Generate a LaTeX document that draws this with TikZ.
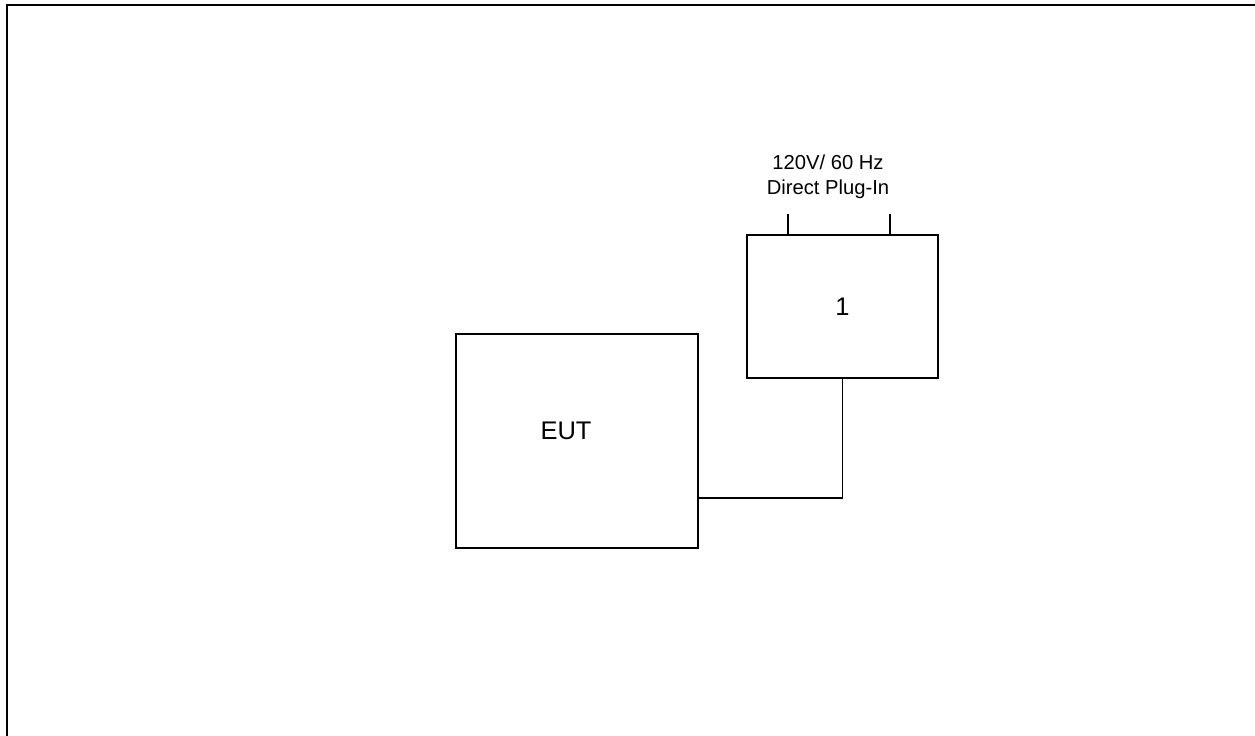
\documentclass[tikz,border=0pt]{standalone}
\usepackage{fontspec}
\setmainfont{Liberation Sans}
\usetikzlibrary{positioning,calc}
\tikzset{
  unit/.style={rectangle, draw, line width=0.75pt, inner sep=0pt},
  wire/.style={line width=0.75pt},
  frame/.style={line width=1.5pt},
  biglbl/.style={font=\fontsize{14.5}{17}\selectfont, inner sep=0pt},
  smalllbl/.style={align=center, font=\fontsize{11.5}{14}\selectfont, inner sep=0pt}
}
\begin{document}
\begin{tikzpicture}[x=0.2mm, y=-0.2mm]
\useasboundingbox (0,0) rectangle (1255,736);
\draw[frame] (7,760) -- (7,5) -- (1280,5);
\node[unit, minimum width=4.84cm, minimum height=4.28cm] (eut) at (577,441) {};
\node[biglbl] (euttxt) at (566,431) {EUT};
\node[unit, minimum width=3.82cm, minimum height=2.86cm, biglbl, draw, line width=0.75pt] (plug) at (842.5,306.5) {1};
\node[smalllbl] (rating) at (828,177) {120V/ 60 Hz\\Direct Plug-In};
\coordinate (pinA) at (788,214);
\coordinate (pinB) at (890,214);
\draw[wire] (pinA) -- (pinA |- plug.north);
\draw[wire] (pinB) -- (pinB |- plug.north);
\coordinate (tap) at (eut.east |- 0,498);
\draw[wire] (tap) -| (plug.south);
\end{tikzpicture}
\end{document}
